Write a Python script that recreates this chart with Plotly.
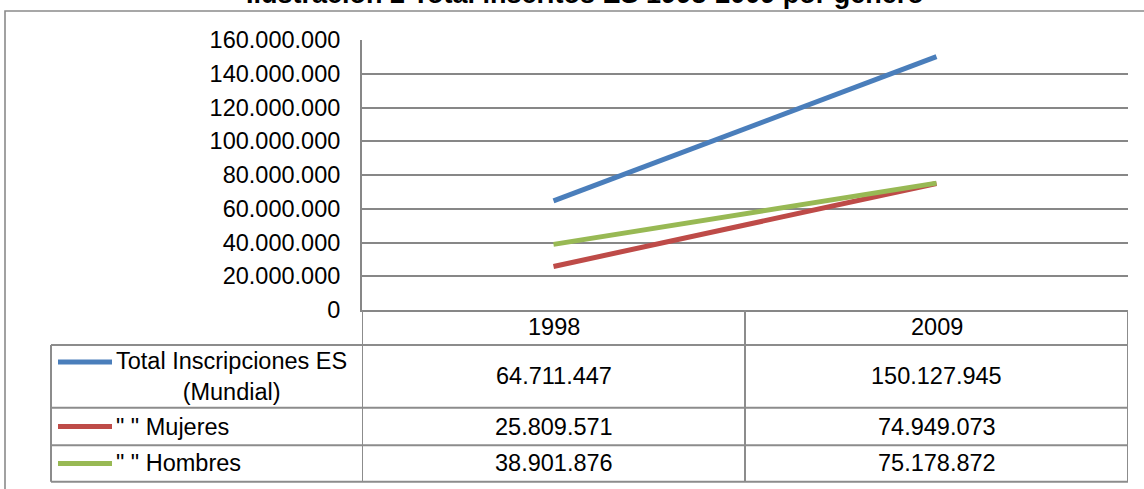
import plotly.graph_objects as go

# ---- data ----
years = ["1998", "2009"]
series_names = ["Total Inscripciones ES<br>(Mundial)", "\" \" Mujeres", "\" \" Hombres"]
total = [64711447, 150127945]
mujeres = [25809571, 74949073]
hombres = [38901876, 75178872]
y_ticks = [0, 20000000, 40000000, 60000000, 80000000, 100000000, 120000000, 140000000, 160000000]
title_text = "Ilustración 2 Total inscritos ES 1998-2009 por género"

series_values = [total, mujeres, hombres]
colors = ["#4A7EBB", "#BE4B48", "#98B954"]

# ---- layout geometry (pixels) ----
W, H = 1144, 489
L, R, T, B = 362, 1128, 39.5, 310
PW, PH = R - L, B - T
FS = 23.5


def fx(px):
    return (px - L) / PW


def fy(py):
    return (B - py) / PH


def fmt(v):
    return f"{v:,}".replace(",", ".")


FONT = "Liberation Sans, Arial, sans-serif"
GRID = "#878787"
BORDER = "#8c8c8c"

fig = go.Figure()
for name, vals, col in zip(series_names, series_values, colors):
    fig.add_trace(go.Scatter(x=years, y=vals, mode="lines", name=name,
                             line=dict(color=col, width=5), showlegend=False))

shapes = []
annotations = []

# outer chart frame (extends off the page on right/bottom)
shapes.append(dict(type="rect", xref="paper", yref="paper",
                   x0=fx(5), x1=fx(1160), y0=fy(500), y1=fy(10.5),
                   line=dict(color="#8a8a8a", width=1.6), fillcolor="rgba(0,0,0,0)", layer="below"))

# table: row boundaries (pixels)
row_tops = [345, 408, 445.5]
row_bottoms = [408, 445.5, 482]
header_top, header_bottom = B, 345
tbl_left = 51

# vertical lines at category column boundaries
for xb in [-0.5, 0.5, 1.5]:
    shapes.append(dict(type="line", xref="x", yref="paper", x0=xb, x1=xb,
                       y0=fy(row_bottoms[-1]), y1=fy(header_top),
                       line=dict(color=BORDER, width=2)))
# legend column verticals
shapes.append(dict(type="line", xref="paper", yref="paper", x0=fx(tbl_left), x1=fx(tbl_left),
                   y0=fy(row_bottoms[-1]), y1=fy(row_tops[0]),
                   line=dict(color=BORDER, width=2)))
# horizontal lines
for yb in [header_bottom] + row_bottoms:
    shapes.append(dict(type="line", xref="paper", yref="paper", x0=fx(tbl_left), x1=1,
                       y0=fy(yb), y1=fy(yb), line=dict(color=BORDER, width=2)))

# header years
for i, yr in enumerate(years):
    annotations.append(dict(x=i, y=fy((header_top + header_bottom) / 2), xref="x", yref="paper",
                            text=yr, showarrow=False, xanchor="center", yanchor="middle",
                            font=dict(size=FS, color="#000000", family=FONT)))

# rows
for r, (name, vals, col) in enumerate(zip(series_names, series_values, colors)):
    yc = (row_tops[r] + row_bottoms[r]) / 2
    key_y = row_tops[r] + 17 if r == 0 else yc
    shapes.append(dict(type="line", xref="paper", yref="paper", x0=fx(58), x1=fx(112),
                       y0=fy(key_y), y1=fy(key_y), line=dict(color=col, width=5)))
    annotations.append(dict(x=fx(114), y=fy(yc), xref="paper", yref="paper", text=name,
                            showarrow=False, xanchor="left", yanchor="middle", align="center",
                            font=dict(size=FS, color="#000000", family=FONT)))
    for i, v in enumerate(vals):
        annotations.append(dict(x=i, y=fy(yc), xref="x", yref="paper", text=fmt(v),
                                showarrow=False, xanchor="center", yanchor="middle",
                                font=dict(size=FS, color="#000000", family=FONT)))

# title (mostly cut off at the top, as in the source)
annotations.append(dict(x=fx(585), y=fy(10), xref="paper", yref="paper", text="<b>" + title_text + "</b>",
                        showarrow=False, xanchor="center", yanchor="bottom",
                        font=dict(size=27, color="#000000", family=FONT)))

fig.update_layout(
    width=W, height=H,
    margin=dict(l=L, r=W - R, t=T, b=H - B, pad=0),
    paper_bgcolor="white", plot_bgcolor="white",
    separators=",.",
    font=dict(family=FONT, size=FS, color="#000000"),
    xaxis=dict(type="category", range=[-0.5, 1.5], showticklabels=False, showgrid=False,
               zeroline=False, showline=True, linecolor=GRID, linewidth=2, ticks=""),
    yaxis=dict(range=[0, 160000000], tickvals=y_ticks, tickformat=",d",
               showgrid=True, gridcolor=GRID, gridwidth=2, zeroline=False,
               showline=True, linecolor=GRID, linewidth=2, ticks="",
               ticklabelstandoff=15, tickfont=dict(size=FS, color="#000000", family=FONT)),
    shapes=shapes, annotations=annotations,
)

fig.write_html("out.html")
